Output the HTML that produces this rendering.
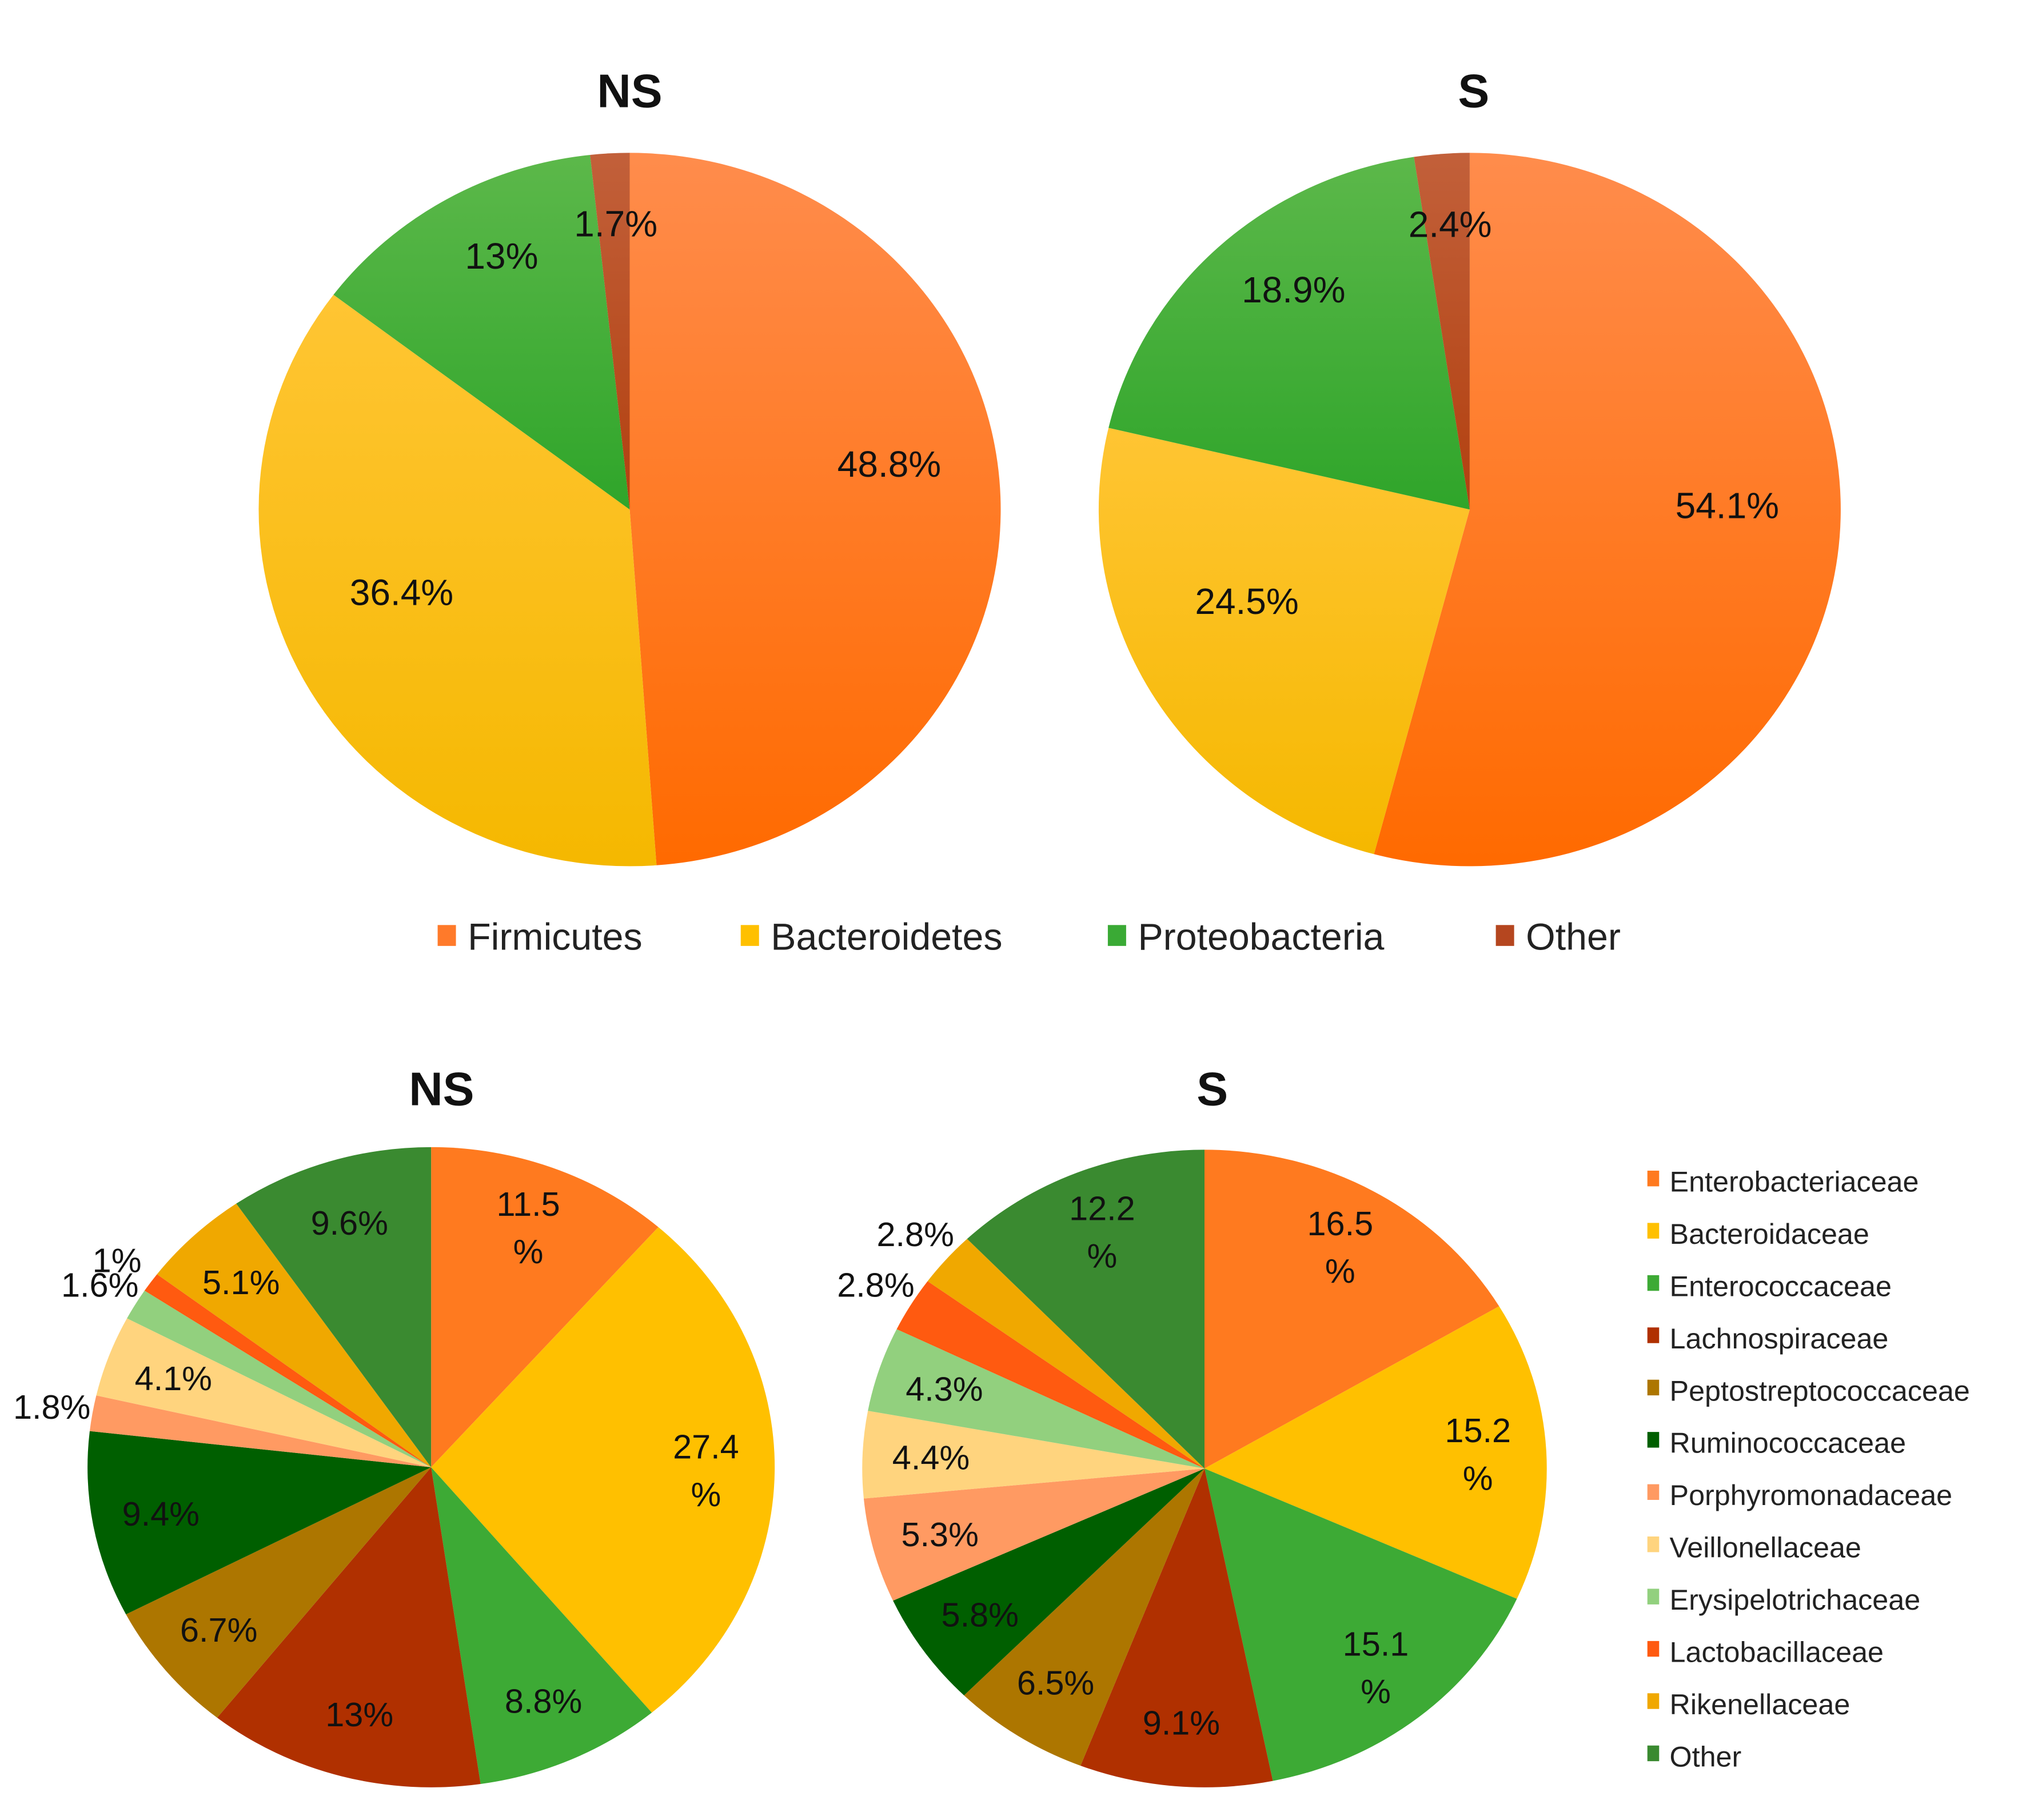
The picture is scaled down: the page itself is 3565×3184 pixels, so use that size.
<!DOCTYPE html>
<html><head><meta charset="utf-8"><style>
html,body{margin:0;padding:0;background:#fff;}
svg{display:block;font-family:"Liberation Sans",Arial,sans-serif;}
</style></head><body>
<svg id="chart" width="3565" height="3184" viewBox="0 0 1560 1393" preserveAspectRatio="none" xmlns="http://www.w3.org/2000/svg">
<defs>
<linearGradient id="gFirm" x1="0" y1="0" x2="0" y2="1"><stop offset="0" stop-color="#FF8C4C"/><stop offset="1" stop-color="#FF6A00"/></linearGradient>
<linearGradient id="gBact" x1="0" y1="0" x2="0" y2="1"><stop offset="0" stop-color="#FFC533"/><stop offset="1" stop-color="#F5B800"/></linearGradient>
<linearGradient id="gProt" x1="0" y1="0" x2="0" y2="1"><stop offset="0" stop-color="#5CB84A"/><stop offset="1" stop-color="#2FA52A"/></linearGradient>
<linearGradient id="gOth" x1="0" y1="0" x2="0" y2="1"><stop offset="0" stop-color="#C2603A"/><stop offset="1" stop-color="#B2400F"/></linearGradient>
</defs>
<g id="layer"></g>
</svg>
<script>
const phylaCategories = ["Firmicutes","Bacteroidetes","Proteobacteria","Other"];
const phylaNS = [48.8, 36.4, 13, 1.7];
const phylaS = [54.1, 24.5, 18.9, 2.4];
const phylaLabelsNS = ["48.8%","36.4%","13%","1.7%"];
const phylaLabelsS = ["54.1%","24.5%","18.9%","2.4%"];
const phylaColors = ["url(#gFirm)","url(#gBact)","url(#gProt)","url(#gOth)"];
const phylaLegendColors = ["#FF7A2A","#FFC000","#3AAA35","#B5461F"];

const famCategories = ["Enterobacteriaceae","Bacteroidaceae","Enterococcaceae","Lachnospiraceae","Peptostreptococcaceae","Ruminococcaceae","Porphyromonadaceae","Veillonellaceae","Erysipelotrichaceae","Lactobacillaceae","Rikenellaceae","Other"];
const famNS = [11.5, 27.4, 8.8, 13, 6.7, 9.4, 1.8, 4.1, 1.6, 1, 5.1, 9.6];
const famS = [16.5, 15.2, 15.1, 9.1, 6.5, 5.8, 5.3, 4.4, 4.3, 2.8, 2.8, 12.2];
const famLabelsNS = ["11.5\n%","27.4\n%","8.8%","13%","6.7%","9.4%","1.8%","4.1%","1.6%","1%","5.1%","9.6%"];
const famLabelsS = ["16.5\n%","15.2\n%","15.1\n%","9.1%","6.5%","5.8%","5.3%","4.4%","4.3%","2.8%","2.8%","12.2\n%"];
const famColors = ["#FF7A1F","#FFC000","#3DAA35","#B03000","#AD7600","#005F00","#FF9A62","#FFD47E","#92D07E","#FF5A10","#F0A800","#3A8A30"];

const NS="http://www.w3.org/2000/svg";
const layer=document.getElementById('layer');
function mk(tag,attrs){const e=document.createElementNS(NS,tag);for(const k in attrs)e.setAttribute(k,attrs[k]);layer.appendChild(e);return e;}
function pt(cx,cy,rx,ry,frac){const a=frac*2*Math.PI;return [cx+rx*Math.sin(a),cy-ry*Math.cos(a)];}

function drawPie(name,cx,cy,rx,ry,vals,labels,colors,fs,smallThresh,kIn,yOff){
  const total=vals.reduce((a,b)=>a+b,0);
  let cum=0;
  vals.forEach((v,i)=>{
    const f0=cum/total, f1=(cum+v)/total;
    const p0=pt(cx,cy,rx,ry,f0), p1=pt(cx,cy,rx,ry,f1);
    const large=(f1-f0)>0.5?1:0;
    const p=mk('path',{d:`M${cx},${cy} L${p0[0]},${p0[1]} A${rx},${ry} 0 ${large} 1 ${p1[0]},${p1[1]} Z`,fill:colors[i]});
    
    
    const mid=(cum+v/2)/total;
    const small=v<smallThresh;
    const k=small?1.12:kIn;
    const lp=pt(cx,cy,rx*k,ry*k,mid);
    const ly=lp[1]+(small?0:yOff);
    const lines=labels[i].split("\n");
    const t=mk('text',{x:lp[0],y:ly+fs*0.35-(lines.length-1)*fs*0.7,'font-size':fs,'text-anchor':'middle',fill:'#111'});
    
    
    lines.forEach((ln,j)=>{const s=document.createElementNS(NS,'tspan');s.setAttribute('x',lp[0]);if(j>0)s.setAttribute('dy',fs*1.4);s.textContent=ln;t.appendChild(s);});
    cum+=v;
  });
}
function title(txt,x,y,name){const t=mk('text',{x:x,y:y,'font-size':36,'font-weight':'bold','text-anchor':'middle',fill:'#111'});t.textContent=txt;
  
  }

title("NS",482,82,"top-ns-title");
title("S",1128,82,"top-s-title");
drawPie("top-ns",482,390,284,273,phylaNS,phylaLabelsNS,phylaColors,28,0,0.7,-28);
drawPie("top-s",1125,390,284,273,phylaS,phylaLabelsS,phylaColors,28,0,0.7,-28);

const legX=[335,567,848,1145];
phylaCategories.forEach((c,i)=>{
  const r=mk('rect',{x:legX[i],y:708,width:14,height:16,fill:phylaLegendColors[i]});
  
  
  const t=mk('text',{x:legX[i]+23,y:727,'font-size':29,fill:'#222'});t.textContent=c;
  
  
});

title("NS",338,846,"bottom-ns-title");
title("S",928,846,"bottom-s-title");
drawPie("bottom-ns",330,1123,263,245,famNS,famLabelsNS,famColors,26,3,0.8,0);
drawPie("bottom-s",922,1124,262,244,famS,famLabelsS,famColors,26,3,0.8,0);

famCategories.forEach((c,i)=>{
  const y=904+i*40;
  const r=mk('rect',{x:1261,y:y-8,width:9,height:12,fill:famColors[i]});
  
  
  const t=mk('text',{x:1278,y:y+8,'font-size':22,fill:'#222'});t.textContent=c;
  
  
});
</script>
</body></html>
